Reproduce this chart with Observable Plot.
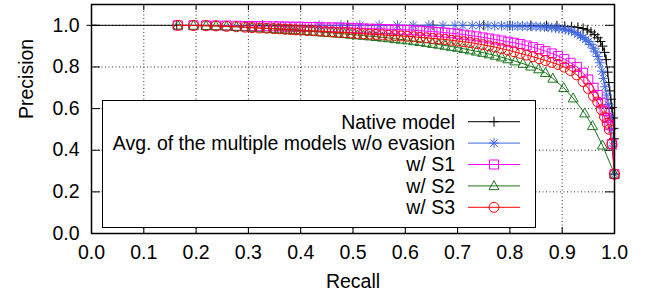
<!DOCTYPE html>
<html><head><meta charset="utf-8">
<script src="https://cdn.jsdelivr.net/npm/d3@7"></script>
<script src="https://cdn.jsdelivr.net/npm/@observablehq/plot@0.6"></script>
<style>body{margin:0;background:#fff}svg{display:block}</style>
</head><body><div id="chart"></div>
<script>
const seriesNames = ["Native model", "Avg. of the multiple models w/o evasion", "w/ S1", "w/ S2", "w/ S3"];
const seriesColors = ["#000000", "#4169e1", "#ff00ff", "#1a751a", "#ff0000"];

const recallNative = [0.000,0.163,0.327,0.490,0.653,0.750,0.800,0.840,0.870,0.890,0.905,0.918,0.930,0.940,0.948,0.955,0.962,0.968,0.973,0.977,0.981,0.984,0.987,0.989,0.991,0.993,0.995,0.997,0.998,0.999,1.000];
const precisionNative = [1.000,1.000,1.000,1.000,1.000,1.000,0.999,0.999,0.998,0.997,0.995,0.993,0.990,0.985,0.978,0.968,0.955,0.940,0.922,0.900,0.870,0.835,0.775,0.725,0.685,0.645,0.605,0.555,0.505,0.455,0.285];

const recallAvg = [0.435,0.477,0.513,0.550,0.585,0.615,0.645,0.672,0.695,0.710,0.728,0.742,0.758,0.771,0.784,0.795,0.805,0.815,0.824,0.833,0.842,0.850,0.858,0.866,0.873,0.880,0.887,0.894,0.900,0.906,0.912,0.918,0.924,0.930,0.935,0.940,0.945,0.950,0.955,0.960,0.964,0.968,0.972,0.976,0.979,0.982,0.985,0.988,0.991,0.994,0.997,1.000];
const precisionAvg = [1.000,1.000,1.000,1.000,1.000,1.000,1.000,0.999,0.999,0.999,0.999,0.999,0.998,0.998,0.998,0.997,0.997,0.996,0.996,0.995,0.995,0.994,0.993,0.992,0.991,0.989,0.987,0.985,0.983,0.980,0.976,0.972,0.966,0.958,0.950,0.942,0.933,0.922,0.908,0.890,0.872,0.850,0.820,0.780,0.745,0.705,0.665,0.620,0.565,0.500,0.420,0.285];

const recallS = [0.165,0.195,0.219,0.238,0.258,0.277,0.294,0.307,0.321,0.335,0.348,0.359,0.370,0.380,0.390,0.400,0.412,0.424,0.436,0.448,0.460,0.472,0.484,0.496,0.508,0.520,0.532,0.544,0.556,0.568,0.580,0.592,0.604,0.616,0.628,0.640,0.652,0.664,0.676,0.688,0.700,0.712,0.724,0.736,0.748,0.760,0.772,0.784,0.796,0.808,0.820,0.832,0.844,0.856,0.868,0.880,0.892,0.904,0.916,0.928,0.940,0.950,0.960,0.968,0.975,0.981,0.986,0.990,0.995,1.000];
const precisionS1 = [1.000,1.000,1.000,0.999,0.999,0.998,0.997,0.997,0.996,0.996,0.995,0.995,0.994,0.994,0.993,0.993,0.992,0.992,0.991,0.990,0.990,0.989,0.988,0.987,0.986,0.985,0.984,0.983,0.982,0.981,0.980,0.979,0.978,0.976,0.974,0.972,0.970,0.968,0.965,0.962,0.959,0.955,0.951,0.947,0.942,0.937,0.932,0.927,0.921,0.916,0.910,0.903,0.895,0.886,0.876,0.865,0.853,0.838,0.820,0.800,0.772,0.740,0.700,0.665,0.628,0.590,0.555,0.520,0.430,0.285];
const precisionS3 = [1.000,0.999,0.998,0.997,0.995,0.993,0.991,0.989,0.987,0.986,0.984,0.983,0.981,0.980,0.978,0.977,0.975,0.974,0.972,0.970,0.968,0.966,0.965,0.963,0.961,0.959,0.958,0.956,0.954,0.952,0.951,0.949,0.947,0.945,0.942,0.940,0.937,0.935,0.932,0.928,0.925,0.921,0.917,0.912,0.907,0.901,0.895,0.888,0.881,0.873,0.865,0.857,0.849,0.840,0.831,0.822,0.812,0.799,0.783,0.762,0.730,0.697,0.660,0.632,0.595,0.560,0.530,0.500,0.430,0.285];

const recallS2 = [0.165,0.195,0.219,0.238,0.258,0.277,0.294,0.307,0.321,0.335,0.348,0.359,0.370,0.380,0.390,0.400,0.412,0.424,0.436,0.448,0.460,0.472,0.484,0.496,0.508,0.520,0.532,0.544,0.556,0.568,0.580,0.592,0.604,0.616,0.628,0.640,0.652,0.664,0.676,0.688,0.700,0.712,0.724,0.736,0.748,0.760,0.772,0.784,0.796,0.810,0.825,0.840,0.855,0.868,0.882,0.903,0.921,0.943,0.958,0.977,1.000];
const precisionS2 = [1.000,0.999,0.998,0.997,0.995,0.993,0.991,0.989,0.987,0.985,0.983,0.981,0.980,0.978,0.977,0.975,0.973,0.971,0.968,0.966,0.964,0.961,0.959,0.956,0.953,0.951,0.948,0.945,0.942,0.939,0.935,0.932,0.929,0.925,0.921,0.917,0.912,0.908,0.903,0.898,0.893,0.887,0.881,0.875,0.869,0.862,0.855,0.847,0.838,0.828,0.816,0.803,0.790,0.772,0.745,0.700,0.650,0.578,0.517,0.424,0.285];

const xTicks = [0.0,0.1,0.2,0.3,0.4,0.5,0.6,0.7,0.8,0.9,1.0];
const yTicks = [0.0,0.2,0.4,0.6,0.8,1.0];

function mkSym(fn){ return {draw(ctx, size){ const r = Math.sqrt(size/Math.PI); fn(ctx, r); }}; }
const symPlus = mkSym((c,r)=>{c.moveTo(-r,0);c.lineTo(r,0);c.moveTo(0,-r);c.lineTo(0,r);});
const symStar = mkSym((c,r)=>{const d=0.75*r;c.moveTo(-r,0);c.lineTo(r,0);c.moveTo(0,-r);c.lineTo(0,r);c.moveTo(-d,-d);c.lineTo(d,d);c.moveTo(-d,d);c.lineTo(d,-d);});
const symSquare = mkSym((c,r)=>{const s=0.9*r;c.moveTo(-s,-s);c.lineTo(s,-s);c.lineTo(s,s);c.lineTo(-s,s);c.closePath();});
const symTri = mkSym((c,r)=>{c.moveTo(0,-1.05*r);c.lineTo(r,0.75*r);c.lineTo(-r,0.75*r);c.closePath();});
const symCircle = mkSym((c,r)=>{c.moveTo(r,0);c.arc(0,0,r,0,2*Math.PI);c.closePath();});
const symbols = [symPlus, symStar, symSquare, symTri, symCircle];

const recalls = [recallNative, recallAvg, recallS, recallS2, recallS];
const precisions = [precisionNative, precisionAvg, precisionS1, precisionS2, precisionS3];
const tables = recalls.map((rs, i) => rs.map((r, j) => ({recall: r, precision: precisions[i][j]})));

const font = "'Liberation Sans', Arial, Helvetica, sans-serif";
const fs = 19.5;
const seriesMarks = [];
tables.forEach((t, i) => {
  seriesMarks.push(Plot.line(t, {x: "recall", y: "precision", stroke: seriesColors[i], strokeWidth: 1}));
  seriesMarks.push(Plot.dot(t, {x: "recall", y: "precision", symbol: symbols[i], r: 5, stroke: seriesColors[i], fill: "none", strokeWidth: 1}));
});

const chart = Plot.plot({
  width: 655, height: 297,
  marginLeft: 91, marginRight: 41, marginTop: 4, marginBottom: 64,
  style: {fontFamily: font, fontSize: fs + "px", background: "#fff", color: "#000"},
  x: {domain: [0, 1]},
  y: {domain: [0, 1.1]},
  marks: [
    Plot.gridX(xTicks, {stroke: "#333", strokeOpacity: 1, strokeDasharray: "1,2.5"}),
    Plot.gridY(yTicks, {stroke: "#333", strokeOpacity: 1, strokeDasharray: "1,2.5"}),
    Plot.tickX(xTicks, {x: d => d, insetTop: 223, stroke: "#000"}),
    Plot.tickX(xTicks, {x: d => d, insetBottom: 223, stroke: "#000"}),
    Plot.tickY(yTicks, {y: d => d, insetRight: 514, stroke: "#000"}),
    Plot.tickY(yTicks, {y: d => d, insetLeft: 514, stroke: "#000"}),
    Plot.axisX(xTicks, {tickSize: 0, tickPadding: 12, tickFormat: d3.format(".1f"), label: null, fontSize: fs}),
    Plot.axisY(yTicks, {tickSize: 0, tickPadding: 12, tickFormat: d3.format(".1f"), label: null, fontSize: fs}),
    ...seriesMarks,
    Plot.frame({stroke: "#000", strokeWidth: 1.5}),
    Plot.text(["Precision"], {frameAnchor: "left", dx: -59, rotate: -90, lineAnchor: "bottom", fontSize: fs}),
    Plot.text(["Recall"], {frameAnchor: "bottom", dy: 54, lineAnchor: "bottom", fontSize: fs})
  ]
});
document.getElementById("chart").append(chart);

// Legend (key box) drawn inside the plot area, gnuplot style
const svg = d3.select(chart);
const lg = svg.append("g").attr("font-family", font).attr("font-size", fs);
lg.append("rect").attr("x", 102.5).attr("y", 100.5).attr("width", 433).attr("height", 127)
  .attr("fill", "#fff").attr("stroke", "#000").attr("stroke-width", 1);
seriesNames.forEach((name, i) => {
  const cy = 121.7 + i * 21.4;
  lg.append("text").attr("x", 455).attr("y", cy).attr("dy", "0.35em").attr("text-anchor", "end").attr("fill", "#000").text(name);
  lg.append("line").attr("x1", 468).attr("x2", 520).attr("y1", cy).attr("y2", cy).attr("stroke", seriesColors[i]).attr("stroke-width", 1);
  const p = d3.path();
  symbols[i].draw(p, Math.PI * 25);
  lg.append("path").attr("d", p.toString()).attr("transform", `translate(494,${cy})`).attr("fill", "none").attr("stroke", seriesColors[i]).attr("stroke-width", 1);
});
</script>
</body></html>
